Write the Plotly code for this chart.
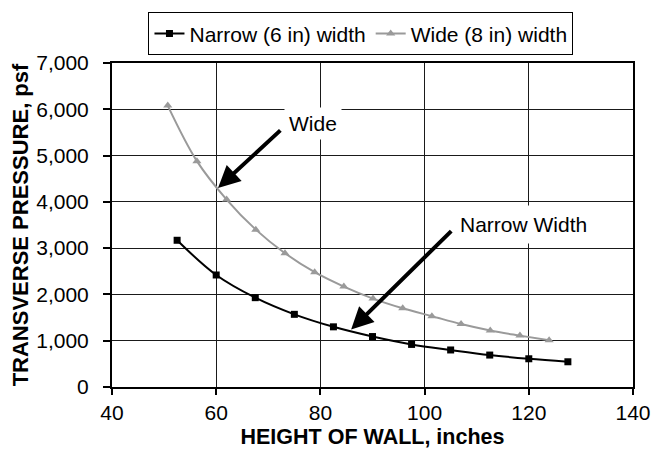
import plotly.graph_objects as go

# wall height (inches) and transverse pressure (psf)
narrow_height = [52.5, 60.0, 67.5, 75.0, 82.5, 90.0, 97.5, 105.0, 112.5, 120.0, 127.5]
narrow_pressure = [3170, 2420, 1930, 1570, 1300, 1090, 920, 800, 690, 610, 545]

wide_height = [50.7, 56.3, 62.0, 67.6, 73.2, 78.9, 84.5, 90.1, 95.8, 101.4, 107.0, 112.6, 118.3, 123.9]
wide_pressure = [6080, 4880, 4050, 3400, 2890, 2480, 2170, 1910, 1700, 1530, 1360, 1220, 1110, 1010]

y_ticks = [0, 1000, 2000, 3000, 4000, 5000, 6000, 7000]
x_ticks = [40, 60, 80, 100, 120, 140]

FONT = 'Arial, Liberation Sans, sans-serif'
GRID = '#1a1a1a'

fig = go.Figure()

fig.add_trace(go.Scatter(
    x=narrow_height, y=narrow_pressure,
    name='Narrow (6 in) width',
    mode='lines+markers',
    line=dict(color='black', width=2, shape='spline', smoothing=1),
    marker=dict(symbol='square', size=7, color='black'),
))
fig.add_trace(go.Scatter(
    x=wide_height, y=wide_pressure,
    name='Wide (8 in) width',
    mode='lines+markers',
    line=dict(color='#9a9a9a', width=2, shape='spline', smoothing=1),
    marker=dict(symbol='triangle-up', size=8, color='#9a9a9a'),
))

# callouts: text boxes first, arrows on top
fig.add_annotation(x=78.5, y=5700, text='Wide', showarrow=False,
                   bgcolor='white', borderpad=4, font=dict(size=21, color='black'))
fig.add_annotation(x=119.0, y=3520, text='Narrow Width', showarrow=False,
                   bgcolor='white', borderpad=7, font=dict(size=21, color='black'))
fig.add_annotation(x=60.35, y=4300, ax=72.6, ay=5575, axref='x', ayref='y',
                   text='', showarrow=True, arrowhead=2, arrowsize=1.1,
                   arrowwidth=4, arrowcolor='black')
fig.add_annotation(x=85.9, y=1240, ax=105.4, ay=3400, axref='x', ayref='y',
                   text='', showarrow=True, arrowhead=2, arrowsize=1.1,
                   arrowwidth=4, arrowcolor='black')

fig.update_xaxes(
    range=[40, 140], tickvals=x_ticks, automargin=False,
    showgrid=True, gridcolor=GRID, gridwidth=1,
    showline=True, linecolor='black', linewidth=2, mirror=True,
    ticks='outside', ticklen=6, tickwidth=1.5, tickcolor='black',
    tickfont=dict(size=21, color='black'),
    zeroline=False,
    title=dict(text='<b>HEIGHT OF WALL, inches</b>', font=dict(size=21.5, color='black'), standoff=6),
)
fig.update_yaxes(
    range=[0, 7000], tickvals=y_ticks, tickformat=',', automargin=False,
    showgrid=True, gridcolor=GRID, gridwidth=1,
    showline=True, linecolor='black', linewidth=2, mirror=True,
    ticks='outside', ticklen=7, tickwidth=1.5, tickcolor='black',
    ticklabelstandoff=10,
    tickfont=dict(size=21, color='black'),
    zeroline=False,
    title=dict(text='<b>TRANSVERSE PRESSURE, psf</b>', font=dict(size=22, color='black'), standoff=2),
)

fig.update_layout(
    width=669, height=462,
    margin=dict(l=112, r=36, t=53, b=75),
    paper_bgcolor='white', plot_bgcolor='white',
    font=dict(family=FONT, color='black'),
    showlegend=True,
    legend=dict(
        orientation='h', x=0.07, y=1.156, xanchor='left', yanchor='top',
        bordercolor='black', borderwidth=1, bgcolor='white',
        font=dict(size=21), itemwidth=30, tracegroupgap=0,
    ),
)

fig.write_html('out.html', config={'displayModeBar': False},
               post_script="document.body.style.margin='0px';")
